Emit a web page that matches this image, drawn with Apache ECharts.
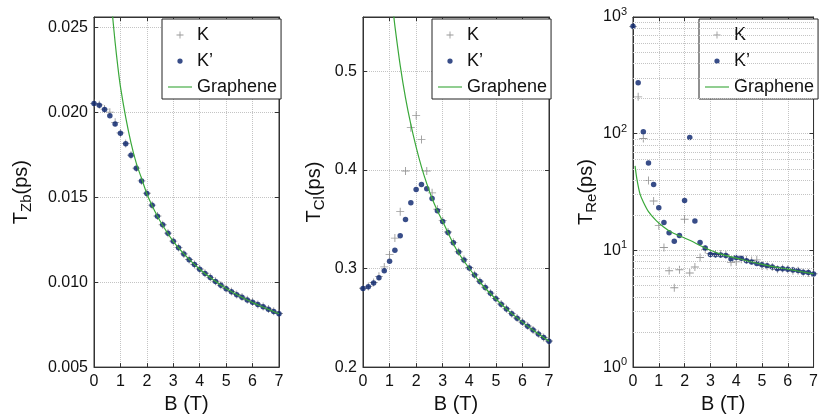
<!DOCTYPE html>
<html><head><meta charset="utf-8">
<script src="https://cdn.jsdelivr.net/npm/echarts@6/dist/echarts.min.js"></script>
<style>html,body{margin:0;padding:0;background:#fff}#c{width:821px;height:419px}</style>
</head><body><div id="c"></div><script>
// ---- data ----
const B = [0,0.2,0.4,0.6,0.8,1,1.2,1.4,1.6,1.8,2,2.2,2.4,2.6,2.8,3,3.2,3.4,3.6,3.8,4,4.2,4.4,4.6,4.8,5,5.2,5.4,5.6,5.8,6,6.2,6.4,6.6,6.8,7];

const zbK  = [0.02052,0.02043,0.02018,0.0200,0.0194,0.01878,0.01815,0.01747,0.01671,0.01596,0.01523,0.01453,0.01389,0.01338,0.01288,0.01241,0.01203,0.01166,0.01133,0.01104,0.01077,0.01052,0.01028,0.01005,0.00982,0.00962,0.00945,0.00927,0.00912,0.00896,0.00883,0.00869,0.00856,0.00842,0.00828,0.00815];
const zbKp = [0.02051,0.02041,0.02016,0.01979,0.0193,0.01876,0.01814,0.01746,0.0167,0.01595,0.01522,0.01452,0.01388,0.01337,0.01287,0.0124,0.01202,0.01165,0.01132,0.01103,0.01076,0.01051,0.01027,0.01004,0.00981,0.00961,0.00944,0.00926,0.00911,0.00895,0.00882,0.00868,0.00855,0.00841,0.00827,0.00814];
const zbGB = [0.7,0.8,0.9,1.0,1.2,1.4,1.6,1.8,2.0,2.2,2.5,3,3.5,4,4.5,5,5.5,6,6.5,7];
const zbG  = [0.0257,0.0241,0.0227,0.0215,0.0197,0.0182,0.0170,0.0161,0.0152,0.0145,0.0136,0.0124,0.0115,0.01076,0.01015,0.00962,0.00918,0.0088,0.00846,0.00814];

const clK  = [0.2800,0.2818,0.2858,0.2920,0.3016,0.314,0.3308,0.3576,0.3989,0.4428,0.4552,0.4307,0.3989,0.3767,0.3600,0.3485,0.3370,0.3265,0.3170,0.3090,0.3010,0.2936,0.2870,0.2810,0.2750,0.2696,0.2640,0.2592,0.2542,0.2498,0.2458,0.2417,0.2377,0.2337,0.2300,0.2264];
const clKp = [0.2798,0.2815,0.2852,0.2905,0.2976,0.3073,0.3184,0.3331,0.3496,0.3667,0.380,0.3851,0.3808,0.371,0.3586,0.3476,0.3365,0.3261,0.3167,0.3087,0.3006,0.2933,0.2868,0.2808,0.2748,0.2694,0.2637,0.259,0.254,0.2496,0.2456,0.2415,0.2375,0.2335,0.2299,0.2262];
const clGB = [1.15,1.2,1.4,1.6,1.8,2.0,2.2,2.4,2.6,2.8,3,3.5,4,4.5,5,5.5,6,6.5,7];
const clG  = [0.558,0.546,0.506,0.473,0.446,0.423,0.403,0.386,0.371,0.3586,0.3476,0.320,0.300,0.283,0.269,0.2565,0.2456,0.2355,0.2262];

const reK  = [832,207,90.9,39.7,26.5,16.3,10.6,6.7,4.78,6.83,18.5,6.41,7.2,8.7,10.2,9.4,9.3,9.3,9.2,7.9,8.0,8.4,8.3,8.2,8.3,7.4,7.3,7.2,6.9,7.0,6.9,6.7,6.7,6.5,6.4,6.3];
const reKp = [832,273,104,56,36.7,23.2,17.3,14.2,12.0,13.4,26.8,92.7,17.9,11.7,10.5,9.23,9.2,9.12,9.05,8.42,8.71,8.55,8.14,7.95,7.74,7.53,7.38,7.2,6.97,6.97,6.9,6.79,6.72,6.49,6.45,6.28];
const reGB = [0.08,0.15,0.27,0.4,0.6,0.9,1.2,1.5,2.2,2.8,3.4,4,5,6,7];
const reG  = [53,41,30.5,26,21.5,18,15.8,14.3,12.2,10.5,9.3,8.6,7.6,6.9,6.3];

const xTicks = [0,1,2,3,4,5,6,7];
const zbTicks = [0.005,0.010,0.015,0.020,0.025];
const clTicks = [0.2,0.3,0.4,0.5];
const reTicks = [1,10,100,1000];

const names = ['K','K\u2019','Graphene'];

// ---- styling ----
const FONT = 'Liberation Sans, Arial, Helvetica, sans-serif';
const NAVY = '#06206a', GRAY = '#808080', GREEN = '#3aa83a', AX = '#333';
const plusSym = 'path://M4,0h1v4h4v1h-4v4h-1v-4h-4v-1h4z';
const plusIcon = 'path://M0,0M16,16M7.5,4h1v3.5h3.5v1h-3.5v3.5h-1v-3.5h-3.5v-1h3.5z';
const dotIcon = 'path://M0,0M16,16M8,5A3,3,0,1,1,8,11A3,3,0,1,1,8,5z';
const lineIcon = 'path://M0,0h28v1.3h-28z';

const grids = [
  {left:94, top:17, width:185, height:353},
  {left:363, top:17, width:186, height:353},
  {left:633, top:17, width:185, height:353}
].map(g => Object.assign(g, {show:true, borderColor:AX, borderWidth:1, containLabel:false}));

function pairs(xs, ys){ return xs.map((x,i)=>[x, ys[i]]); }

const dotted = {show:true, lineStyle:{type:'dotted', color:'#c4c4c4', width:1}};
const tickIn = {show:true, inside:true, length:4, lineStyle:{color:AX}};

function xAxisFor(i, top){
  return {
    type:'value', gridIndex:i, min:0, max:7, interval:1,
    position: top ? 'top' : 'bottom',
    axisLine:{show:true, onZero:false, lineStyle:{color:AX}},
    axisTick: tickIn,
    axisLabel: top ? {show:false} : {show:true, color:'#111', fontSize:16, fontFamily:FONT, margin:6,
      formatter: v => xTicks.indexOf(v) >= 0 ? String(v) : ''},
    splitLine: top ? {show:false} : dotted,
    name: top ? '' : 'B (T)', nameLocation:'middle', nameGap:24,
    nameTextStyle:{fontSize:20, color:'#111', fontFamily:FONT}
  };
}
function nameRich(){
  return {fontSize:20, color:'#111', fontFamily:FONT,
    rich:{sub:{fontSize:15, color:'#111', fontFamily:FONT, padding:[11,0,0,0]}}};
}

const yAxes = [
  {type:'value', gridIndex:0, min:0.005, max:0.0256, interval:0.005,
   name:'T{sub|Zb}(ps)', nameGap:60},
  {type:'value', gridIndex:1, min:0.2, max:0.555, interval:0.1,
   name:'T{sub|Cl}(ps)', nameGap:36},
  {type:'log', gridIndex:2, min:1, max:1000, logBase:10,
   name:'T{sub|Re}(ps)', nameGap:22}
].map((a,i) => Object.assign(a, {
  position:'left', nameLocation:'middle', nameTextStyle:nameRich(),
  axisLine:{show:true, onZero:false, lineStyle:{color:AX}},
  axisTick: tickIn,
  splitLine: dotted,
  axisLabel:{show:true, color:'#111', fontSize:16, fontFamily:FONT, margin:6,
    showMaxLabel: i===2,
    formatter: i===0 ? (v => zbTicks.some(t=>Math.abs(t-v)<1e-9) ? v.toFixed(3) : '')
             : i===1 ? (v => clTicks.some(t=>Math.abs(t-v)<1e-9) ? v.toFixed(1) : '')
             : (v => reTicks.indexOf(v)>=0 ? '10{sup|' + Math.round(Math.log10(v)) + '}' : ''),
    rich:{sup:{fontSize:11, color:'#111', fontFamily:FONT, padding:[0,0,10,0]}}
  }
}));
const yRight = yAxes.map((a,i) => ({
  type:a.type, gridIndex:i, min:a.min, max:a.max, interval:a.interval, logBase:a.logBase,
  position:'right', axisLine:{show:true, onZero:false, lineStyle:{color:AX}},
  axisTick: tickIn, axisLabel:{show:false}, splitLine:{show:false}
}));

const xAxes = [0,1,2].map(i=>xAxisFor(i,false)).concat([0,1,2].map(i=>xAxisFor(i,true)));

// minor grid lines for the log panel
const minorVals = [];
[1,10,100].forEach(d => { for (let m=2; m<=9; m++) minorVals.push(m*d); });

function legendFor(left){
  return {
    left:left, top:19, orient:'vertical', selectedMode:false,
    backgroundColor:'#fff', borderColor:'#222', borderWidth:1, borderRadius:0,
    padding:[7,4,3,6], itemWidth:24, itemHeight:14, itemGap:8,
    textStyle:{fontSize:18, color:'#111', fontFamily:FONT},
    data:[
      {name:names[0], icon:plusIcon, itemStyle:{color:GRAY, borderWidth:0}},
      {name:names[1], icon:dotIcon, itemStyle:{color:NAVY, borderWidth:0}},
      {name:names[2], icon:lineIcon, itemStyle:{color:GREEN, borderWidth:0}}
    ]
  };
}

const series = [];
const sets = [[zbK,zbKp,zbGB,zbG],[clK,clKp,clGB,clG],[reK,reKp,reGB,reG]];
sets.forEach((s,i) => {
  if (i===2) {
    series.push({type:'line', xAxisIndex:i, yAxisIndex:i, data:[], silent:true, z:1,
      markLine:{silent:true, symbol:['none','none'], label:{show:false}, animation:false,
        lineStyle:{type:'dotted', color:'#c4c4c4', width:1},
        emphasis:{disabled:true},
        data: minorVals.map(v=>({yAxis:v}))}});
  }
  series.push({name:names[0], type:'scatter', xAxisIndex:i, yAxisIndex:i,
    symbol:plusSym, symbolSize:8, itemStyle:{color:GRAY}, data:pairs(B, s[0]), z:3});
  series.push({name:names[1], type:'scatter', xAxisIndex:i, yAxisIndex:i,
    symbol:'circle', symbolSize:5.5, itemStyle:{color:NAVY}, data:pairs(B, s[1]), z:4});
  series.push({name:names[2], type:'line', xAxisIndex:i, yAxisIndex:i, smooth:0.3,
    showSymbol:false, lineStyle:{color:GREEN, width:1.2}, itemStyle:{color:GREEN},
    data:pairs(s[2], s[3]), z:5, clip:true});
});

const chart = echarts.init(document.getElementById('c'), null, {renderer:'canvas'});
chart.setOption({
  animation:false,
  backgroundColor:'#fff',
  textStyle:{fontFamily:FONT},
  grid: grids,
  xAxis: xAxes,
  yAxis: yAxes.concat(yRight),
  legend: [legendFor(162), legendFor(432), legendFor(699)],
  series: series
});
</script></body></html>
